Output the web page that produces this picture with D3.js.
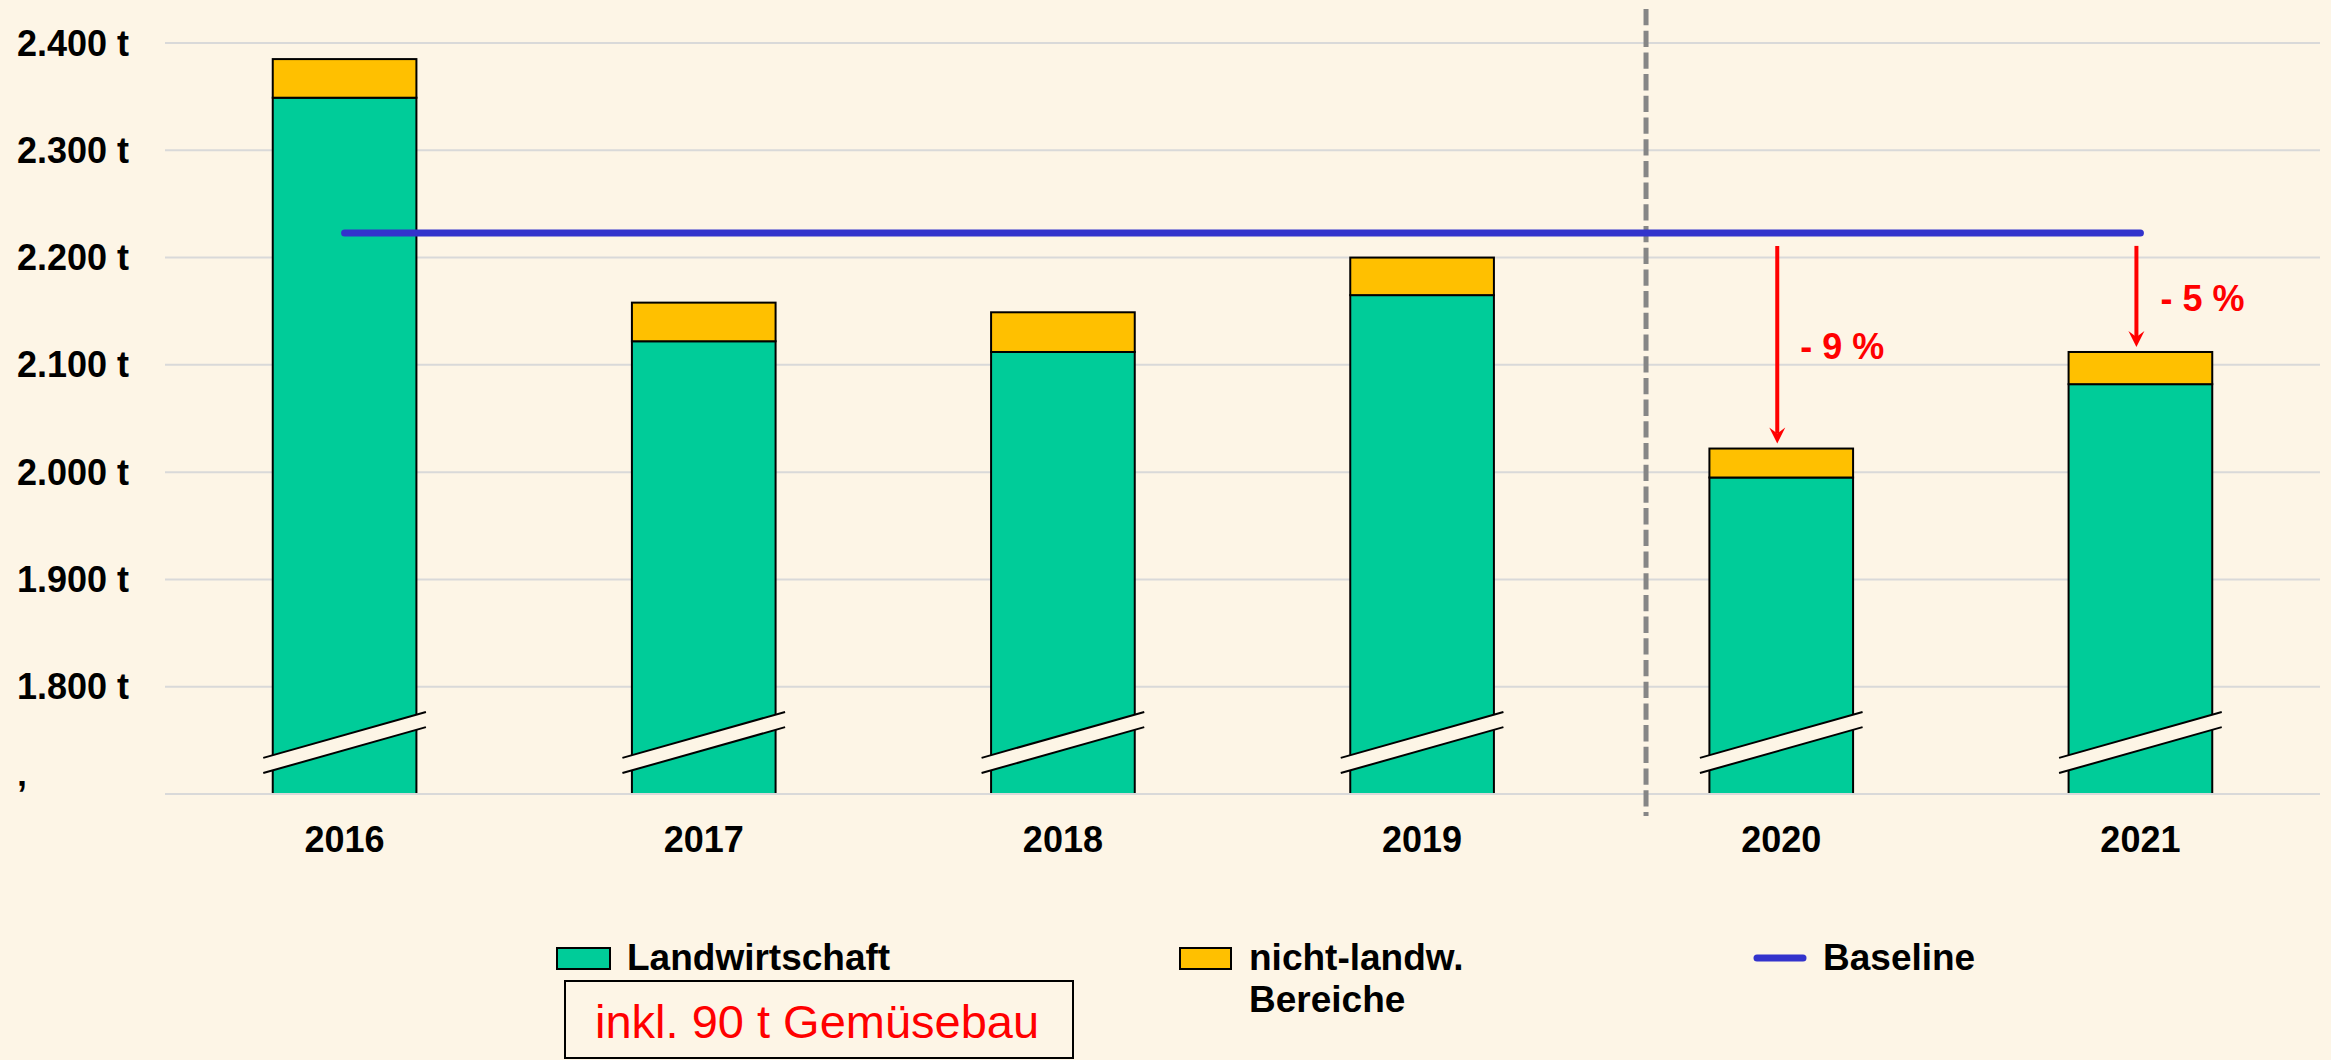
<!DOCTYPE html>
<html>
<head>
<meta charset="utf-8">
<script src="https://cdn.jsdelivr.net/npm/d3@7"></script>
<style>
  html, body { margin: 0; padding: 0; background: #FDF5E6; }
  svg { display: block; }
  text { font-family: "Liberation Sans", Arial, sans-serif; }
</style>
</head>
<body>
<svg id="chart" width="2331" height="1060"></svg>
<script>
// ---- data ----
const years = ["2016", "2017", "2018", "2019", "2020", "2021"];
const landwirtschaft = [2349, 2122, 2112, 2165, 1995, 2082];
const nichtLandw = [36, 36, 37, 35, 27, 30];
const baselineValue = [2223];
const yTicks = [1700, 1800, 1900, 2000, 2100, 2200, 2300, 2400];
const yTickLabels = ["’", "1.800 t", "1.900 t", "2.000 t", "2.100 t", "2.200 t", "2.300 t", "2.400 t"];
const changeYears = ["2020", "2021"];
const changeLabels = ["- 9 %", "- 5 %"];
const breakValue = 1748;
const legendLabels = ["Landwirtschaft", "nicht-landw.", "Baseline"];
const noteText = "inkl. 90 t Gemüsebau";

// ---- styles ----
const BG = "#FDF5E6", GREEN = "#00CC99", YELLOW = "#FFC000", BLUE = "#3333CC", RED = "#FF0000", GRID = "#D9D9D9";

const svg = d3.select("#chart");
svg.append("rect").attr("width", 2331).attr("height", 1060).attr("fill", BG);

const mLeft = 165, mRight = 2320, mTop = 43, mBottom = 794;
const x = d3.scaleBand().domain(years).range([mLeft, mRight]).paddingInner(0.6).paddingOuter(0.3);
const y = d3.scaleLinear().domain([1700, 2400]).range([mBottom, mTop]);
const bw = x.bandwidth();
const step = x.step();

// gridlines
svg.append("g").selectAll("line").data(yTicks).join("line")
  .attr("x1", mLeft).attr("x2", mRight)
  .attr("y1", d => y(d)).attr("y2", d => y(d))
  .attr("stroke", GRID).attr("stroke-width", 2);

// y labels
svg.append("g").selectAll("text").data(yTicks).join("text")
  .attr("x", 17).attr("y", d => y(d)).attr("dy", "0.35em")
  .attr("font-size", 36).attr("font-weight", "bold").attr("fill", "#000")
  .text((d, i) => yTickLabels[i]);

const rows = years.map((yr, i) => ({ yr, a: landwirtschaft[i], b: nichtLandw[i] }));

// bars
const bars = svg.append("g");
bars.selectAll("rect.g").data(rows).join("rect").attr("class", "g")
  .attr("x", d => x(d.yr)).attr("width", bw)
  .attr("y", d => y(d.a)).attr("height", d => y(1700) - y(d.a))
  .attr("fill", GREEN).attr("stroke", "#000").attr("stroke-width", 2);
bars.selectAll("rect.y").data(rows).join("rect").attr("class", "y")
  .attr("x", d => x(d.yr)).attr("width", bw)
  .attr("y", d => y(d.a + d.b)).attr("height", d => y(d.a) - y(d.a + d.b))
  .attr("fill", YELLOW).attr("stroke", "#000").attr("stroke-width", 2);

// bottom axis line over bar bottoms
svg.append("line").attr("x1", mLeft).attr("x2", mRight).attr("y1", mBottom).attr("y2", mBottom)
  .attr("stroke", GRID).attr("stroke-width", 2);

// axis breaks
const brk = svg.append("g");
rows.forEach(d => {
  const cx = x(d.yr) + bw / 2, cy = y(breakValue);
  const ext = bw / 2 + 9.5, slope = 46 / 163, half = 7.6;
  const x0 = cx - ext, x1 = cx + ext;
  const yl = cy + ext * slope, yr = cy - ext * slope;
  brk.append("path")
    .attr("d", `M${x0},${yl - half} L${x1},${yr - half} L${x1},${yr + half} L${x0},${yl + half} Z`)
    .attr("fill", BG).attr("stroke", "none");
  brk.append("line").attr("x1", x0).attr("y1", yl - half).attr("x2", x1).attr("y2", yr - half)
    .attr("stroke", "#000").attr("stroke-width", 2);
  brk.append("line").attr("x1", x0).attr("y1", yl + half).attr("x2", x1).attr("y2", yr + half)
    .attr("stroke", "#000").attr("stroke-width", 2);
});

// x labels
svg.append("g").selectAll("text").data(years).join("text")
  .attr("x", d => x(d) + bw / 2).attr("y", 852)
  .attr("text-anchor", "middle").attr("font-size", 36).attr("font-weight", "bold")
  .text(d => d);

// dashed separator
const sepX = x("2020") - step * 0.1765;
svg.append("line").attr("x1", sepX).attr("x2", sepX).attr("y1", 9).attr("y2", 816)
  .attr("stroke", "#868686").attr("stroke-width", 5).attr("stroke-dasharray", "16.3,5.4");

// baseline
svg.append("line")
  .attr("x1", x(years[0]) + bw / 2).attr("x2", x(years[years.length - 1]) + bw / 2)
  .attr("y1", y(baselineValue[0])).attr("y2", y(baselineValue[0]))
  .attr("stroke", BLUE).attr("stroke-width", 7).attr("stroke-linecap", "round");

// change arrows
changeYears.forEach((yr, i) => {
  const idx = years.indexOf(yr);
  const total = landwirtschaft[idx] + nichtLandw[idx];
  const ax = x(yr) + bw / 2 - 4;
  const y0 = y(baselineValue[0]) + 13;
  const y1 = y(total) - 5;
  svg.append("line").attr("x1", ax).attr("x2", ax).attr("y1", y0).attr("y2", y1 - 10)
    .attr("stroke", RED).attr("stroke-width", 4);
  svg.append("path")
    .attr("d", `M${ax},${y1} L${ax - 8},${y1 - 16} L${ax},${y1 - 10} L${ax + 8},${y1 - 16} Z`)
    .attr("fill", RED);
});
svg.append("text").attr("x", x("2020") + bw / 2 + 19).attr("y", 359)
  .attr("font-size", 36).attr("font-weight", "bold").attr("fill", RED).text(changeLabels[0]);
svg.append("text").attr("x", x("2021") + bw / 2 + 20).attr("y", 311)
  .attr("font-size", 36).attr("font-weight", "bold").attr("fill", RED).text(changeLabels[1]);

// legend
const lg = svg.append("g");
lg.append("rect").attr("x", 557).attr("y", 948).attr("width", 53).attr("height", 21)
  .attr("fill", GREEN).attr("stroke", "#000").attr("stroke-width", 2);
lg.append("text").attr("x", 627).attr("y", 970).attr("font-size", 37).attr("font-weight", "bold").text(legendLabels[0]);
lg.append("rect").attr("x", 1180).attr("y", 948).attr("width", 51).attr("height", 21)
  .attr("fill", YELLOW).attr("stroke", "#000").attr("stroke-width", 2);
const t2 = lg.append("text").attr("x", 1249).attr("y", 970).attr("font-size", 37).attr("font-weight", "bold");
t2.append("tspan").attr("x", 1249).text(legendLabels[1]);
t2.append("tspan").attr("x", 1249).attr("dy", 42).text("Bereiche");
lg.append("line").attr("x1", 1757).attr("x2", 1803).attr("y1", 958).attr("y2", 958)
  .attr("stroke", BLUE).attr("stroke-width", 7).attr("stroke-linecap", "round");
lg.append("text").attr("x", 1823).attr("y", 970).attr("font-size", 37).attr("font-weight", "bold").text(legendLabels[2]);

// note box
svg.append("rect").attr("x", 565).attr("y", 981).attr("width", 508).attr("height", 77)
  .attr("fill", "none").attr("stroke", "#000").attr("stroke-width", 2);
svg.append("text").attr("x", 595).attr("y", 1038).attr("font-size", 47).attr("fill", RED).text(noteText);
</script>
</body>
</html>
